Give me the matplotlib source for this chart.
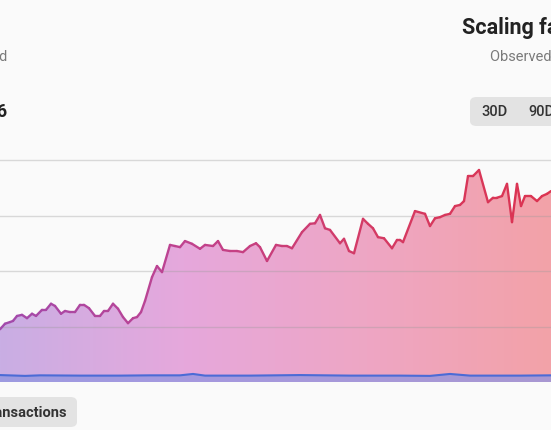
import numpy as np
import matplotlib.pyplot as plt
from matplotlib.colors import LinearSegmentedColormap
from matplotlib.collections import LineCollection
from matplotlib.patches import FancyBboxPatch

plt.rcParams['font.family'] = ['Roboto', 'DejaVu Sans']

# scaling factor series (x = position along the window, y = value)
t = [0, 5, 10, 13, 17, 22, 27, 32, 36, 42, 46, 51, 55, 61, 65, 70, 75, 80, 84, 89,
     95, 100, 104, 108, 113, 118, 123, 128, 133, 137, 141, 145, 152, 157, 162, 170,
     175, 180, 185, 192, 200, 205, 213, 218, 223, 230, 237, 243, 250, 256, 260, 267,
     276, 282, 287, 292, 302, 310, 315, 320, 325, 330, 340, 344, 349, 354, 363, 368,
     373, 378, 384, 392, 397, 400, 403, 415, 425, 430, 435, 440, 445, 450, 455, 460,
     464, 468, 473, 479, 488, 493, 497, 502, 507, 512, 517, 521, 525, 531, 537, 542,
     547, 551]
scaling = [9.5, 10.5, 10.8, 11.0, 11.9, 12.1, 11.5, 12.3, 11.9, 13.0, 13.0, 14.1, 13.7,
           12.3, 12.8, 12.6, 12.6, 13.9, 13.9, 13.3, 11.9, 11.9, 12.8, 12.8, 14.1, 13.2,
           11.7, 10.6, 11.5, 11.7, 12.6, 14.6, 18.9, 20.9, 19.8, 24.7, 24.5, 24.3, 25.4,
           24.9, 24.0, 24.7, 24.5, 25.4, 23.8, 23.6, 23.6, 23.4, 24.5, 25.0, 24.3, 21.8,
           24.7, 24.5, 24.5, 24.1, 27.0, 28.5, 28.6, 30.1, 27.7, 27.4, 25.0, 25.8, 23.6,
           23.2, 29.4, 28.5, 27.7, 26.1, 25.9, 24.1, 25.6, 25.6, 25.2, 30.8, 30.3, 28.1,
           29.5, 29.7, 30.1, 30.3, 31.7, 31.9, 32.6, 37.1, 37.1, 38.2, 32.4, 33.2, 33.2,
           33.5, 35.7, 28.8, 35.7, 31.7, 33.5, 33.5, 32.6, 33.5, 33.9, 34.4]

# transactions series
t_tx = [0, 25, 40, 80, 120, 150, 180, 193, 205, 250, 300, 350, 400, 430, 450, 470, 520, 551]
tx = [1.25, 1.1, 1.2, 1.15, 1.15, 1.2, 1.2, 1.45, 1.15, 1.15, 1.25, 1.15, 1.15, 1.1,
      1.45, 1.15, 1.15, 1.2]

grid_vals = [10, 20, 30, 40]

bg = '#fafafa'
fig = plt.figure(figsize=(5.51, 4.31), dpi=100, facecolor=bg)
ax = fig.add_axes([0, 1 - 383 / 431, 1, (383 - 161) / 431])
ax.set_facecolor('none')
ax.set_xlim(0, 551)
ax.set_ylim(0, 40)
for s in ax.spines.values():
    s.set_visible(False)
ax.set_xticks([])
ax.set_yticks([])

fill_cmap = LinearSegmentedColormap.from_list('f', ['#c9aee4', '#e6a8dc', '#eea6c4', '#f3a2a8'])
line_cmap = LinearSegmentedColormap.from_list('l', ['#a24aac', '#c0428e', '#d43a64', '#dc3350'])

poly = ax.fill_between(t, scaling, 0, color='none', lw=0)
grad = np.linspace(0, 1, 256).reshape(1, -1)
im = ax.imshow(grad, cmap=fill_cmap, extent=[0, 551, 0, 40], aspect='auto', zorder=1)
im.set_clip_path(poly.get_paths()[0], transform=ax.transData)

pts = np.array([t, scaling]).T.reshape(-1, 1, 2)
segs = np.concatenate([pts[:-1], pts[1:]], axis=1)
lc = LineCollection(segs, cmap=line_cmap, norm=plt.Normalize(0, 551), lw=1.7,
                    capstyle='round', joinstyle='round', zorder=4)
lc.set_array(np.array(t[:-1]))
ax.add_collection(lc)

ax.fill_between(t_tx, tx, 0, color='#8f94e0', alpha=0.75, lw=0, zorder=2)
ax.plot(t_tx, tx, color='#4b6bd6', lw=1.5, zorder=5)

for g in grid_vals:
    ax.axhline(g, color='#9a9a9a', alpha=0.35, lw=1, zorder=3, clip_on=False)

# header texts
fig.text(462 / 551, 1 - 28 / 431, 'Scaling factor', fontsize=15.5, fontweight='bold',
         color='#222222', va='center', ha='left')
fig.text(490 / 551, 1 - 57 / 431, 'Observed vs. projected', fontsize=10.5,
         color='#7a7a7a', va='center', ha='left')
fig.text(8 / 551, 1 - 57 / 431, 'Annualized', fontsize=10.5, color='#7a7a7a',
         va='center', ha='right')
fig.text(8 / 551, 1 - 112 / 431, '1.26', fontsize=13, fontweight='bold',
         color='#222222', va='center', ha='right')

# range buttons
box = FancyBboxPatch((470 / 551, 1 - 127 / 431), 120 / 551, 29 / 431,
                     boxstyle='round,pad=0,rounding_size=0.012', transform=fig.transFigure,
                     fc='#e3e3e3', ec='none')
fig.patches.append(box)
fig.text(494 / 551, 1 - 112.5 / 431, '30D', fontsize=10.5, fontweight='medium',
         color='#333333', va='center', ha='center')
fig.text(541 / 551, 1 - 112.5 / 431, '90D', fontsize=10.5, fontweight='medium',
         color='#333333', va='center', ha='center')

# series toggle
box2 = FancyBboxPatch((-40 / 551, 1 - 428 / 431), 117 / 551, 30 / 431,
                      boxstyle='round,pad=0,rounding_size=0.012', transform=fig.transFigure,
                      fc='#e3e3e3', ec='none')
fig.patches.append(box2)
fig.text(67 / 551, 1 - 413 / 431, 'Transactions', fontsize=10.5, fontweight='bold',
         color='#333333', va='center', ha='right')

fig.savefig('out.png', dpi=100, facecolor=bg)
